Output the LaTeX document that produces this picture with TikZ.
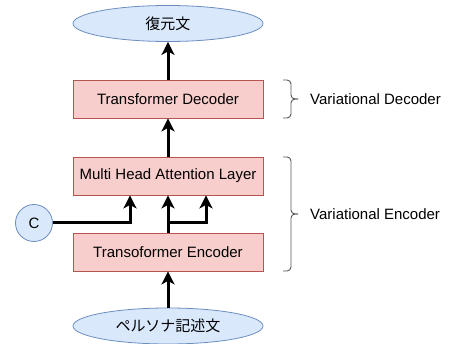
\documentclass[tikz,border=0pt]{standalone}
\usepackage{fontspec}
\setmainfont{Liberation Sans}
\newfontfamily\cjk{Noto Sans CJK JP}
\usetikzlibrary{arrows.meta,shapes.geometric}
\definecolor{bfill}{HTML}{DAE8FC}
\definecolor{bdraw}{HTML}{6C8EBF}
\definecolor{rfill}{HTML}{F8CECC}
\definecolor{rdraw}{HTML}{B85450}
\definecolor{brc}{HTML}{555555}
\begin{document}
\begin{tikzpicture}[x=1pt,y=-1pt,
  box/.style={draw=rdraw,fill=rfill,line width=0.8pt,minimum width=190pt,minimum height=38pt,inner sep=0pt,font=\fontsize{15}{18}\selectfont},
  ell/.style={ellipse,draw=bdraw,fill=bfill,line width=0.8pt,minimum width=190pt,minimum height=36pt,inner sep=0pt,font=\cjk\fontsize{15}{18}\selectfont},
  circ/.style={circle,draw=bdraw,fill=bfill,line width=0.8pt,minimum size=37pt,inner sep=0pt,font=\fontsize{15}{18}\selectfont},
  arr/.style={line width=3pt,-{Stealth[length=13pt,width=13pt,inset=3.5pt]}},
  brc/.style={draw=brc,line width=0.9pt,rounded corners=4pt},
  lbl/.style={anchor=west,inner sep=0pt,font=\fontsize{15}{18}\selectfont}]
\useasboundingbox (0,0) rectangle (451,344);
\node[ell] (out) at (168,23.5) {復元文};
\node[box] (dec) at (168,99) {Transformer Decoder};
\node[box] (mha) at (168,176) {Multi Head Attention Layer};
\node[box] (enc) at (168,252) {Transoformer Encoder};
\node[ell] (in) at (168,326) {ペルソナ記述文};
\node[circ] (c) at (34,223) {C};
\coordinate (split) at (168,223);
\draw[arr] (in.north) -- (enc.south);
\draw[arr] (enc.north) -- (mha.south);
\draw[arr] (c.east) -| (mha.south -| 130,0);
\draw[arr] (split) -| (mha.south -| 206,0);
\draw[arr] (mha.north) -- (dec.south);
\draw[arr] (dec.north) -- (out.south);
% Variational Decoder bracket
\draw[brc] (283,80) -- (291,80) -- (291,99) -- (298,99);
\draw[brc] (298,99) -- (291,99) -- (291,118) -- (283,118);
\node[lbl] (vd) at (310,99) {Variational Decoder};
% Variational Encoder bracket
\draw[brc] (283,157) -- (291,157) -- (291,214) -- (298,214);
\draw[brc] (298,214) -- (291,214) -- (291,271) -- (283,271);
\node[lbl] (ve) at (310,214) {Variational Encoder};
\end{tikzpicture}
\end{document}
